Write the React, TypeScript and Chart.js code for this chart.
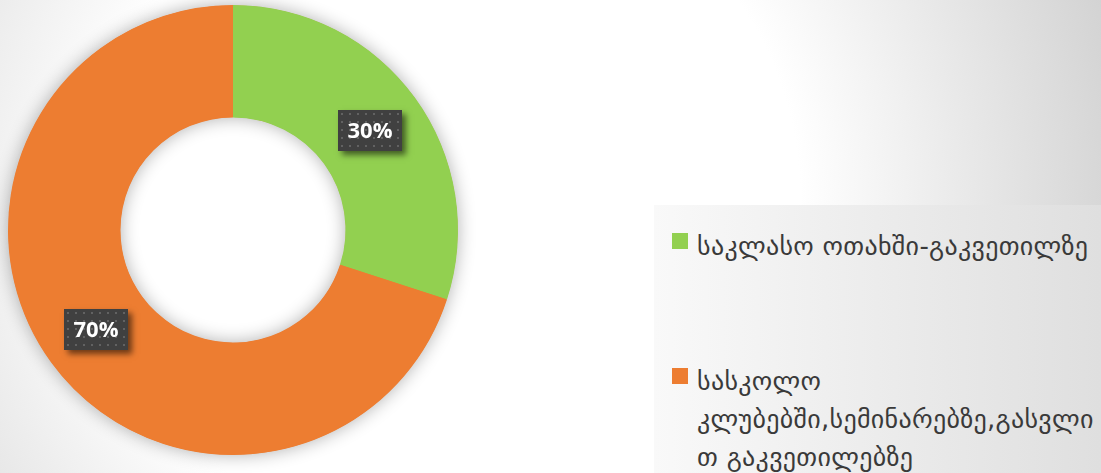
import React, { useEffect, useRef } from 'react';
import { Chart, registerables } from 'chart.js';

Chart.register(...registerables);

const CATEGORIES = [
  'საკლასო ოთახში-გაკვეთილზე',
  'სასკოლო კლუბებში,სემინარებზე,გასვლით გაკვეთილებზე',
];
const LEGEND_LINES = [
  ['საკლასო ოთახში-გაკვეთილზე'],
  ['სასკოლო', 'კლუბებში,სემინარებზე,გასვლი', 'თ გაკვეთილებზე'],
];
const VALUES = [30, 70];
const VALUE_LABELS = ['30%', '70%'];
const COLORS = ['#92D050', '#ED7D31'];

const ringShadow = {
  id: 'ringShadow',
  beforeDatasetsDraw(chart: any) {
    const meta = chart.getDatasetMeta(0);
    const arc = meta.data[0];
    if (!arc) return;
    const { x, y, outerRadius, innerRadius } = arc.getProps(['x', 'y', 'outerRadius', 'innerRadius'], true);
    const ctx = chart.ctx;
    ctx.save();
    ctx.shadowColor = 'rgba(0,0,0,0.32)';
    ctx.shadowBlur = 18;
    ctx.fillStyle = '#ED7D31';
    ctx.beginPath();
    ctx.arc(x, y, outerRadius - 0.5, 0, Math.PI * 2);
    ctx.arc(x, y, innerRadius + 0.5, 0, Math.PI * 2, true);
    ctx.closePath();
    ctx.fill();
    ctx.restore();
  },
};

const boxLabels = {
  id: 'boxLabels',
  afterDatasetsDraw(chart: any) {
    const ctx = chart.ctx;
    const meta = chart.getDatasetMeta(0);
    meta.data.forEach((arc: any, i: number) => {
      const p = arc.tooltipPosition(true);
      const w = 64;
      const h = 41;
      const left = Math.round(p.x - w / 2);
      const top = Math.round(p.y - h / 2);
      ctx.save();
      ctx.shadowColor = 'rgba(0,0,0,0.55)';
      ctx.shadowBlur = 6;
      ctx.shadowOffsetX = 4;
      ctx.shadowOffsetY = 4;
      ctx.fillStyle = '#404040';
      ctx.fillRect(left, top, w, h);
      ctx.restore();
      ctx.save();
      ctx.fillStyle = 'rgba(255,255,255,0.18)';
      for (let yy = top + 3; yy < top + h - 1; yy += 8) {
        for (let xx = left + 3; xx < left + w - 1; xx += 8) {
          ctx.fillRect(xx, yy, 2, 2);
        }
      }
      ctx.fillStyle = '#FFFFFF';
      ctx.font = 'bold 22px "Open Sans", "DejaVu Sans", sans-serif';
      ctx.textAlign = 'center';
      ctx.textBaseline = 'middle';
      ctx.fillText(VALUE_LABELS[i], left + w / 2, top + h / 2 + 1);
      ctx.restore();
    });
  },
};

export default function App() {
  const ref = useRef<HTMLCanvasElement>(null);

  useEffect(() => {
    document.body.style.margin = '0';
    const chart = new Chart(ref.current as HTMLCanvasElement, {
      type: 'doughnut',
      data: {
        labels: CATEGORIES,
        datasets: [
          {
            data: VALUES,
            backgroundColor: COLORS,
            borderWidth: 0,
            hoverOffset: 0,
          },
        ],
      },
      options: {
        animation: false,
        responsive: false,
        maintainAspectRatio: false,
        cutout: '50%',
        rotation: 0,
        layout: { padding: { left: 8, top: 5, right: 192, bottom: 18 } },
        plugins: {
          legend: { display: false },
          tooltip: { enabled: false },
        },
        events: [],
      },
      plugins: [ringShadow, boxLabels],
    });
    return () => chart.destroy();
  }, []);

  const lineH = 38;
  const itemTops = [227, 362];

  return (
    <div
      style={{
        position: 'fixed',
        left: 0,
        top: 0,
        width: 1101,
        height: 473,
        overflow: 'hidden',
        background: 'radial-gradient(circle at 450px 200px, #ffffff 350px, #d0d0d0 705px)',
      }}
    >
      <canvas ref={ref} width={650} height={473} style={{ position: 'absolute', left: 0, top: 0, width: 650, height: 473 }} />
      <div
        style={{
          position: 'absolute',
          left: 654,
          top: 205,
          width: 447,
          height: 268,
          background: 'linear-gradient(to right, #f9f9f9, #dfdfdf)',
        }}
      />
      {LEGEND_LINES.map((lines, i) => (
        <React.Fragment key={i}>
          <div
            style={{
              position: 'absolute',
              left: 672,
              top: itemTops[i] + 6,
              width: 16,
              height: 16,
              background: COLORS[i],
            }}
          />
          <div
            style={{
              position: 'absolute',
              left: 697,
              top: itemTops[i],
              fontFamily: '"DejaVu Sans", sans-serif',
              fontSize: 26,
              letterSpacing: 0.3,
              lineHeight: lineH + 'px',
              color: '#3a3a3a',
              whiteSpace: 'nowrap',
            }}
          >
            {lines.map((t, j) => (
              <div key={j}>{t}</div>
            ))}
          </div>
        </React.Fragment>
      ))}
    </div>
  );
}
